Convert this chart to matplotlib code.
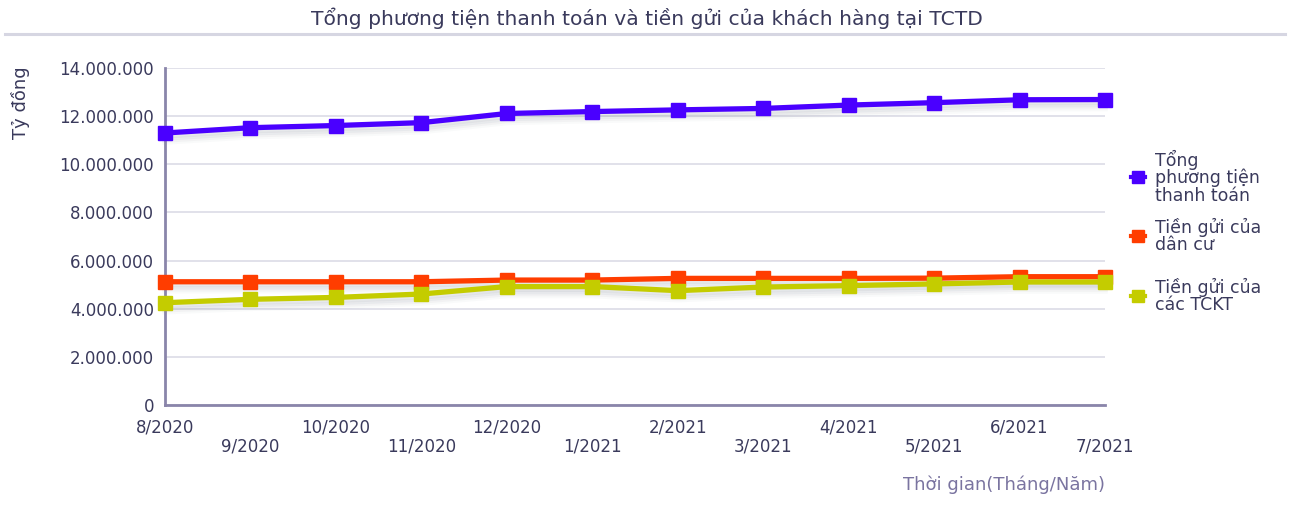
import matplotlib
matplotlib.use("Agg")
import matplotlib.pyplot as plt
from matplotlib.lines import Line2D
from matplotlib.transforms import ScaledTranslation
from matplotlib.ticker import FuncFormatter, MultipleLocator

plt.rcParams['font.family'] = ['DejaVu Sans']

months = ["8/2020", "9/2020", "10/2020", "11/2020", "12/2020", "1/2021",
          "2/2021", "3/2021", "4/2021", "5/2021", "6/2021", "7/2021"]
tong_ptttt = [11300000, 11520000, 11610000, 11730000, 12110000, 12190000,
              12260000, 12320000, 12460000, 12560000, 12680000, 12690000]
tien_gui_dan_cu = [5120000, 5120000, 5120000, 5120000, 5190000, 5190000,
                   5260000, 5260000, 5260000, 5270000, 5330000, 5330000]
tien_gui_tckt = [4250000, 4390000, 4470000, 4610000, 4920000, 4920000,
                 4750000, 4900000, 4960000, 5030000, 5110000, 5110000]
series_names = ["Tổng\nphương tiện\nthanh toán", "Tiền gửi của\ndân cư", "Tiền gửi của\ncác TCKT"]
colors = ["#4a00ff", "#ff3d00", "#c4cc00"]

text_color = "#3a3a5c"
W, H = 1293, 505
fig = plt.figure(figsize=(W / 100, H / 100), dpi=100)
ax = fig.add_axes([165 / W, 1 - 405 / H, (1105 - 165) / W, (405 - 68) / H])

x = list(range(len(months)))
for vals, c in zip([tong_ptttt, tien_gui_dan_cu, tien_gui_tckt], colors):
    # soft shadow under the line
    for k, a in [(3, 0.10), (5, 0.08), (7, 0.06), (9, 0.04)]:
        ax.plot(x, vals, color="#7a8090", lw=4, alpha=a, zorder=2, clip_on=False,
                transform=ax.transData + ScaledTranslation(0, -k / 100, fig.dpi_scale_trans))
    ax.plot(x, vals, color=c, lw=3.8, marker="s", ms=10, mec=c, clip_on=False, zorder=3)

ax.set_xlim(0, 11)
ax.set_ylim(0, 14000000)
ax.yaxis.set_major_locator(MultipleLocator(2000000))
ax.yaxis.set_major_formatter(FuncFormatter(lambda v, p: f"{int(v):,}".replace(",", ".")))
ax.grid(axis="y", color="#dcdce6", lw=1.2)
ax.set_axisbelow(True)
for s in ["top", "right"]:
    ax.spines[s].set_visible(False)
for s in ["left", "bottom"]:
    ax.spines[s].set_color("#8a85aa")
    ax.spines[s].set_linewidth(2)
ax.tick_params(axis="y", length=0, labelsize=12, colors=text_color, pad=8)
ax.tick_params(axis="x", length=0, labelsize=12, colors=text_color, pad=10)
ax.set_xticks(x)
ax.set_xticklabels([m if i % 2 == 0 else "\n" + m for i, m in enumerate(months)], linespacing=1.05)

fig.text(0.5, 1 - 18 / H, "Tổng phương tiện thanh toán và tiền gửi của khách hàng tại TCTD",
         ha="center", va="center", fontsize=14.6, color=text_color)
fig.add_artist(Line2D([5 / W, 1285 / W], [1 - 34 / H, 1 - 34 / H], color="#d6d6e2", lw=2.2))

fig.text(20 / W, 1 - 103 / H, "Tỷ đồng", rotation=90, ha="center", va="center",
         fontsize=13, color=text_color)
fig.text(1105 / W, 1 - 485 / H, "Thời gian(Tháng/Năm)", ha="right", va="center",
         fontsize=13, color="#7a74a0")

leg_y = [177, 236, 296]
for name, c, yy in zip(series_names, colors, leg_y):
    fig.add_artist(Line2D([1131 / W, 1145 / W], [1 - yy / H] * 2, color=c, lw=3))
    fig.add_artist(Line2D([1138 / W], [1 - yy / H], color=c, marker="s", ms=8, mec=c))
    fig.text(1155 / W, 1 - yy / H, name, ha="left", va="center", fontsize=12.5,
             color=text_color, linespacing=0.95)

fig.savefig("out.png", dpi=100)
